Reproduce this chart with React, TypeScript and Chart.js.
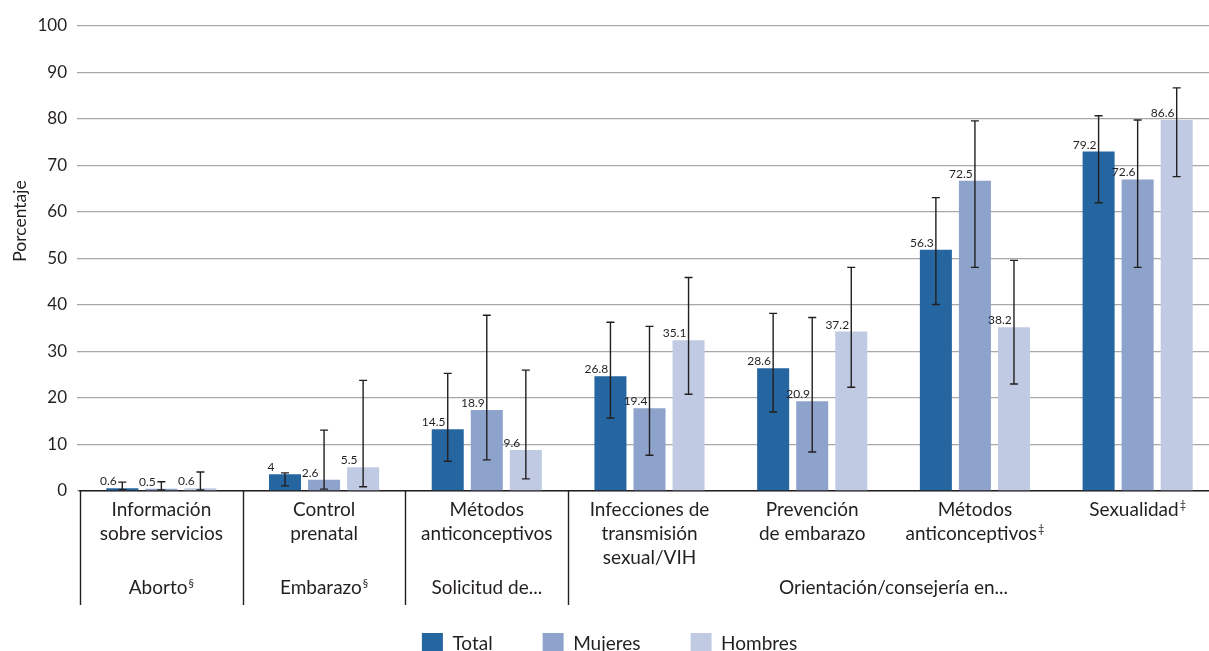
import { useEffect, useRef } from "react";
import { Chart, registerables } from "chart.js";

Chart.register(...registerables);

const FONT = "Lato, 'Open Sans', sans-serif";
const TEXT = "#231f20";

// Category labels (lines), with trailing footnote marks kept apart
const categoryLines: string[][] = [
  ["Información", "sobre servicios"],
  ["Control", "prenatal"],
  ["Métodos", "anticonceptivos"],
  ["Infecciones de", "transmisión", "sexual/VIH"],
  ["Prevención", "de embarazo"],
  ["Métodos", "anticonceptivos"],
  ["Sexualidad"],
];
const categoryMarks: string[] = ["", "", "", "", "", "‡", "‡"];

const groupLabels: string[] = ["Aborto", "Embarazo", "Solicitud de...", "Orientación/consejería en..."];
const groupMarks: string[] = ["§", "§", "", ""];
const groupStart: number[] = [0, 1, 2, 3];
const groupEnd: number[] = [0, 1, 2, 6];

const seriesNames: string[] = ["Total", "Mujeres", "Hombres"];
const seriesColors: string[] = ["#2566a1", "#8da3cb", "#c0cbe3"];

// bar heights as drawn
const totalValues: number[] = [0.6, 3.6, 13.3, 24.7, 26.4, 51.9, 73.0];
const mujeresValues: number[] = [0.5, 2.4, 17.4, 17.8, 19.3, 66.7, 67.0];
const hombresValues: number[] = [0.6, 5.1, 8.8, 32.4, 34.3, 35.2, 79.8];

// printed value labels
const totalLabels: string[] = ["0.6", "4", "14.5", "26.8", "28.6", "56.3", "79.2"];
const mujeresLabels: string[] = ["0.5", "2.6", "18.9", "19.4", "20.9", "72.5", "72.6"];
const hombresLabels: string[] = ["0.6", "5.5", "9.6", "35.1", "37.2", "38.2", "86.6"];

// confidence intervals
const totalLow: number[] = [0.3, 1.1, 6.4, 15.7, 17.0, 40.1, 62.0];
const totalHigh: number[] = [1.9, 3.9, 25.3, 36.3, 38.2, 63.1, 80.7];
const mujeresLow: number[] = [0.2, 0.4, 6.7, 7.7, 8.4, 48.1, 48.1];
const mujeresHigh: number[] = [2.0, 13.1, 37.8, 35.4, 37.3, 79.6, 79.8];
const hombresLow: number[] = [0.2, 0.9, 2.6, 20.8, 22.3, 23.0, 67.6];
const hombresHigh: number[] = [4.1, 23.8, 26.0, 45.9, 48.1, 49.6, 86.7];

const yTitle = "Porcentaje";
const yMin = 0;
const yMax = 100;
const yStep = 10;

const seriesValues = [totalValues, mujeresValues, hombresValues];
const seriesLabels = [totalLabels, mujeresLabels, hombresLabels];
const seriesLow = [totalLow, mujeresLow, hombresLow];
const seriesHigh = [totalHigh, mujeresHigh, hombresHigh];

function drawWithMark(ctx: CanvasRenderingContext2D, text: string, mark: string, cx: number, baseline: number, size: number) {
  ctx.font = `${size}px ${FONT}`;
  const w = ctx.measureText(text).width;
  const markSize = Math.round(size * 0.6);
  let mw = 0;
  if (mark) {
    ctx.font = `${markSize}px ${FONT}`;
    mw = ctx.measureText(mark).width + 1;
  }
  const total = w + mw;
  const left = cx - total / 2;
  ctx.textAlign = "left";
  ctx.textBaseline = "alphabetic";
  ctx.font = `${size}px ${FONT}`;
  ctx.fillText(text, left, baseline);
  if (mark) {
    ctx.font = `${markSize}px ${FONT}`;
    ctx.fillText(mark, left + w + 1, baseline - size * 0.38);
  }
}

const overlayPlugin = {
  id: "overlay",
  afterDatasetsDraw(chart: any) {
    const ctx: CanvasRenderingContext2D = chart.ctx;
    const y = chart.scales.y;
    ctx.save();
    // error bars
    ctx.strokeStyle = TEXT;
    ctx.lineWidth = 1.4;
    seriesValues.forEach((_, di) => {
      const meta = chart.getDatasetMeta(di);
      meta.data.forEach((bar: any, j: number) => {
        const x = bar.x;
        const yl = y.getPixelForValue(seriesLow[di][j]);
        const yh = y.getPixelForValue(seriesHigh[di][j]);
        ctx.beginPath();
        ctx.moveTo(x, yl);
        ctx.lineTo(x, yh);
        ctx.moveTo(x - 4, yl);
        ctx.lineTo(x + 4, yl);
        ctx.moveTo(x - 4, yh);
        ctx.lineTo(x + 4, yh);
        ctx.stroke();
      });
    });
    // value labels
    ctx.fillStyle = TEXT;
    ctx.font = `12px ${FONT}`;
    ctx.textAlign = "center";
    ctx.textBaseline = "alphabetic";
    seriesValues.forEach((_, di) => {
      const meta = chart.getDatasetMeta(di);
      meta.data.forEach((bar: any, j: number) => {
        const left = bar.x - bar.width / 2;
        ctx.fillText(seriesLabels[di][j], left + 2, bar.y - 3);
      });
    });
    ctx.restore();
  },
  afterDraw(chart: any) {
    const ctx: CanvasRenderingContext2D = chart.ctx;
    const xs = chart.scales.x;
    const area = chart.chartArea;
    const n = categoryLines.length;
    const cw = (area.right - area.left) / n;
    ctx.save();
    ctx.fillStyle = TEXT;
    // category labels
    categoryLines.forEach((lines, i) => {
      const cx = xs.getPixelForValue(i);
      lines.forEach((ln, k) => {
        const mark = k === lines.length - 1 ? categoryMarks[i] : "";
        drawWithMark(ctx, ln, mark, cx, area.bottom + 25 + k * 24, 19);
      });
    });
    // group labels
    groupLabels.forEach((g, gi) => {
      const a = xs.getPixelForValue(groupStart[gi]) - cw / 2;
      const b = xs.getPixelForValue(groupEnd[gi]) + cw / 2;
      drawWithMark(ctx, g, groupMarks[gi], (a + b) / 2, area.bottom + 103, 19);
    });
    // separators
    ctx.strokeStyle = TEXT;
    ctx.lineWidth = 1.4;
    const seps: number[] = [];
    groupStart.forEach((s) => seps.push(xs.getPixelForValue(s) - cw / 2));
    seps.push(xs.getPixelForValue(groupEnd[groupEnd.length - 1]) + cw / 2);
    seps.forEach((sx) => {
      const px = Math.round(sx) + 0.5;
      ctx.beginPath();
      ctx.moveTo(px, area.bottom);
      ctx.lineTo(px, area.bottom + 114);
      ctx.stroke();
    });
    // y title
    ctx.translate(20, 221);
    ctx.rotate(-Math.PI / 2);
    ctx.font = `17.5px ${FONT}`;
    ctx.textAlign = "center";
    ctx.textBaseline = "middle";
    ctx.fillText(yTitle, 0, 0);
    ctx.restore();
  },
};

export default function App() {
  const canvasRef = useRef<HTMLCanvasElement | null>(null);

  useEffect(() => {
    if (!canvasRef.current) return;
    const chart = new Chart(canvasRef.current, {
      type: "bar",
      data: {
        labels: categoryLines.map((l, i) => l.join(" ") + categoryMarks[i]),
        datasets: seriesNames.map((name, i) => ({
          label: name,
          data: seriesValues[i],
          backgroundColor: seriesColors[i],
          borderWidth: 0,
          categoryPercentage: 0.72,
          barPercentage: 0.82,
        })),
      },
      options: {
        animation: false,
        responsive: true,
        maintainAspectRatio: false,
        layout: { padding: { top: 26, left: 0, right: 7, bottom: 0 } },
        plugins: {
          tooltip: { enabled: false },
          legend: {
            position: "bottom",
            labels: {
              boxWidth: 21,
              boxHeight: 21,
              padding: 50,
              color: TEXT,
              font: { family: FONT, size: 19 },
            },
          },
        },
        scales: {
          x: {
            ticks: { display: false },
            grid: { display: false },
            border: { display: true, color: TEXT, width: 1.5 },
            afterFit: (s: any) => {
              s.height = 92;
            },
          },
          y: {
            min: yMin,
            max: yMax,
            ticks: {
              stepSize: yStep,
              padding: 10,
              color: TEXT,
              font: { family: FONT, size: 17 },
            },
            grid: { color: "#a8a8a8", lineWidth: 1.3, tickLength: 3 },
            border: { display: false },
            afterFit: (s: any) => {
              s.width = 80;
            },
          },
        },
      },
      plugins: [overlayPlugin],
    });
    return () => chart.destroy();
  }, []);

  return (
    <div style={{ position: "fixed", left: 0, top: 0, width: 1226, height: 664, background: "#fff" }}>
      <canvas ref={canvasRef} />
    </div>
  );
}
